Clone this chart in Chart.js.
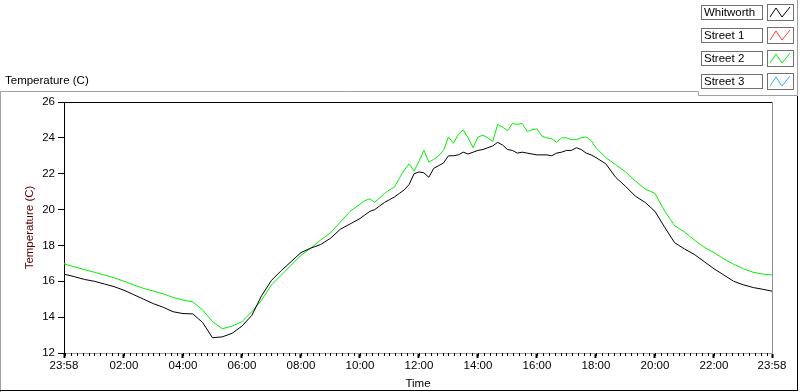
<!DOCTYPE html>
<html>
<head>
<meta charset="utf-8">
<script src="https://cdn.jsdelivr.net/npm/chart.js@4.4.0/dist/chart.umd.min.js"></script>
<style>
    html, body { margin: 0; padding: 0; background: #fff; }
    canvas { display: block; }
</style>
</head>
<body>
<canvas id="myChart" width="800" height="392"></canvas>
<script>
// setup - readings from 23:58 to 23:58 next day (denser in the noisy daytime part)
const times = ["23:58", "00:00", "00:20", "00:40", "01:00", "01:20", "01:40", "02:00", "02:20", "02:40",
    "03:00", "03:20", "03:40", "04:00", "04:20", "04:40", "05:00", "05:20", "05:40", "06:00",
    "06:20", "06:40", "07:00", "07:20", "07:40", "08:00", "08:20", "08:40", "09:00", "09:20",
    "09:40",
    "10:00", "10:10", "10:20", "10:30", "10:40", "10:50", "11:00", "11:10", "11:20", "11:30",
    "11:40", "11:50", "12:00", "12:10", "12:20", "12:30", "12:40", "12:50", "13:00", "13:10",
    "13:20", "13:30", "13:40", "13:50", "14:00", "14:10", "14:20", "14:30", "14:40", "14:50",
    "15:00", "15:10", "15:20", "15:30", "15:40", "15:50", "16:00", "16:10", "16:20", "16:30",
    "16:40", "16:50", "17:00", "17:10", "17:20", "17:30", "17:40", "17:50", "18:00",
    "18:20", "18:40", "19:00", "19:20", "19:40", "20:00", "20:20", "20:40", "21:00", "21:20",
    "21:40", "22:00", "22:20", "22:40", "23:00", "23:20", "23:40", "23:58"];

const whitworth = [16.4, 16.4, 16.25, 16.1, 16.0, 15.85, 15.7, 15.5, 15.25, 15.0,
    14.75, 14.55, 14.3, 14.2, 14.18, 13.7, 12.85, 12.9, 13.1, 13.5,
    14.1, 15.2, 16.05, 16.6, 17.1, 17.6, 17.85, 18.05, 18.4, 18.9,
    19.2,
    19.5, 19.7, 19.9, 20.0, 20.2, 20.4, 20.55, 20.7, 20.9, 21.1,
    21.4, 22.0, 22.1, 22.05, 21.8, 22.3, 22.45, 22.6, 23.0, 23.0,
    23.05, 23.2, 23.1, 23.2, 23.3, 23.35, 23.45, 23.55, 23.75, 23.6,
    23.35, 23.3, 23.15, 23.2, 23.15, 23.1, 23.05, 23.05, 23.05, 23.0,
    23.15, 23.2, 23.3, 23.3, 23.45, 23.35, 23.15, 23.05, 22.9,
    22.55, 21.8, 21.3, 20.75, 20.4, 19.9, 19.0, 18.15, 17.8, 17.5,
    17.1, 16.7, 16.35, 16.0, 15.8, 15.65, 15.55, 15.45];

const street1 = [];

const street2 = [17.0, 16.95, 16.8, 16.65, 16.5, 16.35, 16.2, 16.0, 15.8, 15.6,
    15.45, 15.3, 15.1, 14.95, 14.85, 14.4, 13.75, 13.35, 13.5, 13.75,
    14.3, 14.95, 15.8, 16.35, 16.9, 17.45, 17.85, 18.3, 18.7, 19.3,
    19.9,
    20.3, 20.5, 20.6, 20.4, 20.65, 20.9, 21.1, 21.25, 21.75, 22.2,
    22.55, 22.15, 22.7, 23.3, 22.65, 22.8, 23.0, 23.3, 24.05, 23.7,
    24.2, 24.45, 24.0, 23.45, 24.05, 24.15, 24.0, 23.8, 24.75, 24.6,
    24.4, 24.8, 24.75, 24.8, 24.35, 24.45, 24.5, 24.1, 24.0, 23.95,
    23.75, 24.0, 24.0, 23.9, 23.9, 24.0, 24.05, 23.85, 23.45,
    22.9, 22.5, 22.1, 21.6, 21.15, 20.9, 19.9, 19.1, 18.75, 18.3,
    17.9, 17.6, 17.25, 16.95, 16.7, 16.5, 16.4, 16.35];

const street3 = [];

const xTickLabels = ["23:58", "02:00", "04:00", "06:00", "08:00", "10:00", "12:00", "14:00", "16:00", "18:00", "20:00", "22:00", "23:58"];

const FONT = { family: "'Liberation Sans', Arial, sans-serif", size: 11.5 };

// minutes since the 23:58 start, the last 23:58 is the next day
function toMinutes(t, i) {
    const [h, m] = t.split(":").map(Number);
    let v = (h * 60 + m - (23 * 60 + 58) + 1440) % 1440;
    if (i > 0 && v === 0) v = 1440;
    return v;
}
const xTickValues = xTickLabels.map(toMinutes);

function points(values) {
    return values.map((v, i) => ({ x: toMinutes(times[i], i), y: v }));
}

const data = {
    datasets: [
        { label: "Whitworth", data: points(whitworth), borderColor: "#000000" },
        { label: "Street 1", data: points(street1), borderColor: "#ff3b3b" },
        { label: "Street 2", data: points(street2), borderColor: "#00f000" },
        { label: "Street 3", data: points(street3), borderColor: "#33aaff" }
    ]
};

// frame, plot border, minor ticks, title and legend in LabVIEW style
const framePlugin = {
    id: "frame",
    afterDraw(chart) {
        const ctx = chart.ctx;
        const a = chart.chartArea;
        const xs = chart.scales.x;
        ctx.save();
        ctx.lineWidth = 1;

        // outer panel
        ctx.strokeStyle = "#a0a0a0";
        ctx.beginPath();
        ctx.moveTo(0.5, 392); ctx.lineTo(0.5, 91.5); ctx.lineTo(698.5, 91.5); ctx.lineTo(698.5, 95.5);
        ctx.lineTo(797.5, 95.5);
        ctx.moveTo(797.5, 0); ctx.lineTo(797.5, 95.5);
        ctx.stroke();
        ctx.strokeStyle = "#000";
        ctx.beginPath();
        ctx.moveTo(0, 390.5); ctx.lineTo(798, 390.5);
        ctx.moveTo(797.5, 96); ctx.lineTo(797.5, 391);
        ctx.stroke();

        // plot top / right edges
        ctx.strokeStyle = "#000";
        ctx.beginPath();
        ctx.moveTo(a.left, a.top + 0.5); ctx.lineTo(a.right, a.top + 0.5);
        ctx.stroke();
        ctx.strokeStyle = "#909090";
        ctx.beginPath();
        ctx.moveTo(a.right + 0.5, a.top); ctx.lineTo(a.right + 0.5, a.bottom);
        ctx.stroke();

        // minor x ticks every 12 minutes
        ctx.strokeStyle = "#000";
        ctx.beginPath();
        for (let m = 2; m < 1440; m += 12) {
            const px = Math.round(xs.getPixelForValue(m)) + 0.5;
            ctx.moveTo(px, a.bottom); ctx.lineTo(px, a.bottom + 3);
        }
        ctx.stroke();

        // plot name
        ctx.fillStyle = "#000";
        ctx.font = FONT.size + "px " + FONT.family;
        ctx.textBaseline = "middle";
        ctx.textAlign = "left";
        ctx.fillText("Temperature (C)", 5, 81);

        // legend
        chart.data.datasets.forEach((ds, i) => {
            const top = 5 + i * 23;
            ctx.fillStyle = "#fff";
            ctx.fillRect(701, top, 62, 14);
            ctx.strokeStyle = "#707070";
            ctx.strokeRect(701.5, top + 0.5, 61, 14);
            ctx.strokeRect(767.5, top - 0.5, 26, 16);
            ctx.fillStyle = "#000";
            ctx.fillText(ds.label, 704, top + 7.5);
            ctx.strokeStyle = ds.borderColor;
            ctx.beginPath();
            ctx.moveTo(770, top + 12);
            ctx.lineTo(776, top + 3);
            ctx.lineTo(782, top + 12);
            ctx.lineTo(790, top + 2);
            ctx.stroke();
        });
        ctx.restore();
    }
};

// config
const config = {
    type: "line",
    data,
    options: {
        responsive: false,
        animation: false,
        layout: { padding: { top: 102, right: 28, left: 0, bottom: 0 } },
        elements: {
            point: { radius: 0 },
            line: { borderWidth: 1, tension: 0 }
        },
        plugins: {
            legend: { display: false },
            tooltip: { enabled: false }
        },
        scales: {
            x: {
                type: "linear",
                min: 0,
                max: 1440,
                afterBuildTicks: scale => { scale.ticks = xTickValues.map(v => ({ value: v })); },
                afterFit: scale => { scale.height = 39; },
                grid: { drawOnChartArea: false, tickLength: 5, tickColor: "#000", tickWidth: 2 },
                border: { color: "#a0a0a0" },
                ticks: {
                    autoSkip: false, maxRotation: 0, padding: 1, color: "#000", font: FONT,
                    callback: (v, i) => xTickLabels[i]
                },
                title: { display: true, text: "Time", color: "#000", font: FONT, padding: { top: 0, bottom: 1 } }
            },
            y: {
                min: 12,
                max: 26,
                afterFit: scale => { scale.width = 64; },
                grid: { drawOnChartArea: false, tickLength: 6, tickColor: "#000" },
                border: { color: "#000" },
                ticks: { stepSize: 2, padding: 3, color: "#000", font: FONT },
                title: { display: true, text: "Temperature (C)", color: "#5a0000", font: FONT, padding: { top: 23, bottom: 0 } }
            }
        }
    },
    plugins: [framePlugin]
};

// render init block
const myChart = new Chart(document.getElementById("myChart"), config);
</script>
</body>
</html>
